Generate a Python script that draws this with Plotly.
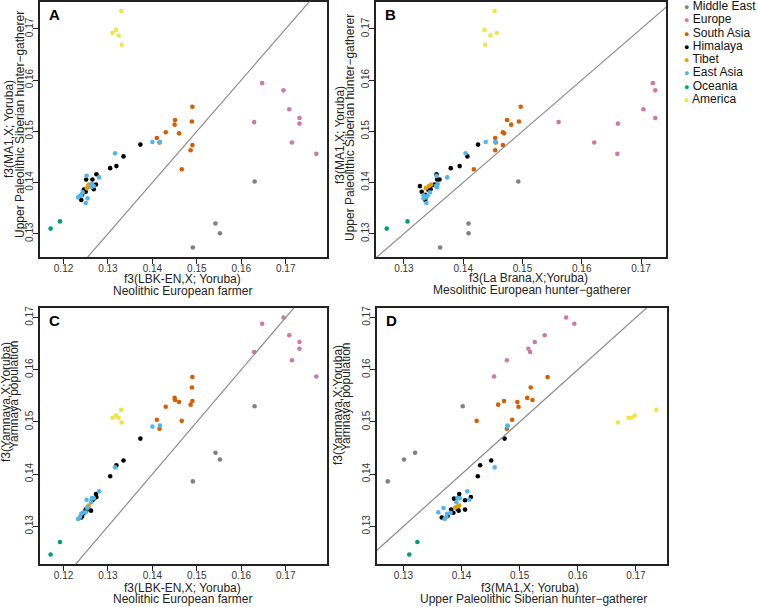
import plotly.graph_objects as go

W, H = 758, 607

regions = ["Middle East", "Europe", "South Asia", "Himalaya", "Tibet", "East Asia", "Oceania", "America"]
region_colors = ["#808080", "#CC79A7", "#D55E00", "#000000", "#E69F00", "#56B4E9", "#009E73", "#F0E442"]

# one entry per population
pop_region = (["Middle East"] * 4 + ["Europe"] * 8 + ["South Asia"] * 11 + ["Himalaya"] * 15
              + ["Tibet"] * 3 + ["East Asia"] * 14 + ["Oceania"] * 2 + ["America"] * 5)

f3_lbk = [0.1630, 0.1542, 0.1552, 0.1491,
          0.1647, 0.1695, 0.1708, 0.1731, 0.1629, 0.1731, 0.1714, 0.1769,
          0.1490, 0.1489, 0.1450, 0.1451, 0.1490, 0.1460, 0.1486, 0.1430, 0.1410, 0.1466, 0.1416,
          0.1373, 0.1335, 0.1319, 0.1305, 0.1240, 0.1250, 0.1268, 0.1273, 0.1265, 0.1251, 0.1274,
          0.1256, 0.1246, 0.1262, 0.1242,
          0.1253, 0.1255, 0.1257,
          0.1316, 0.1400, 0.1417, 0.1250, 0.1254, 0.1233, 0.1240, 0.1243, 0.1262, 0.1268, 0.1264,
          0.1280, 0.1252, 0.1237,
          0.1171, 0.1192,
          0.1330, 0.1310, 0.1318, 0.1324, 0.1331]

f3_labrana = [0.1493, 0.1409, 0.1409, 0.1361,
              0.1720, 0.1724, 0.1704, 0.1724, 0.1561, 0.1661, 0.1621, 0.1660,
              0.1497, 0.1494, 0.1481, 0.1474, 0.1467, 0.1469, 0.1454, 0.1467, 0.1454, 0.1418, 0.1455,
              0.1425, 0.1407, 0.1394, 0.1379, 0.1336, 0.1330, 0.1345, 0.1352, 0.1356, 0.1360, 0.1355,
              0.1327, 0.1341, 0.1349, 0.1336,
              0.1337, 0.1342, 0.1346,
              0.1404, 0.1438, 0.1454, 0.1338, 0.1333, 0.1338, 0.1333, 0.1344, 0.1356, 0.1354, 0.1357,
              0.1373, 0.1355, 0.1340,
              0.1271, 0.1306,
              0.1453, 0.1457, 0.1436, 0.1446, 0.1437]

f3_ma1 = [0.1402, 0.1320, 0.1301, 0.1273,
          0.1594, 0.1580, 0.1543, 0.1526, 0.1518, 0.1515, 0.1478, 0.1456,
          0.1548, 0.1519, 0.1513, 0.1522, 0.1473, 0.1496, 0.1463, 0.1498, 0.1487, 0.1426, 0.1478,
          0.1474, 0.1451, 0.1432, 0.1428, 0.1366, 0.1382, 0.1387, 0.1396, 0.1406, 0.1406, 0.1416,
          0.1393, 0.1386, 0.1395, 0.1376,
          0.1389, 0.1393, 0.1396,
          0.1457, 0.1479, 0.1479, 0.1360, 0.1369, 0.1371, 0.1375, 0.1381, 0.1391, 0.1393, 0.1397,
          0.1410, 0.1413, 0.1374,
          0.1310, 0.1324,
          0.1735, 0.1692, 0.1698, 0.1687, 0.1669]

f3_yamnaya = [0.1530, 0.1441, 0.1428, 0.1386,
              0.1688, 0.1700, 0.1666, 0.1653, 0.1634, 0.1640, 0.1618, 0.1587,
              0.1586, 0.1566, 0.1546, 0.1542, 0.1540, 0.1538, 0.1533, 0.1529, 0.1504, 0.1502, 0.1487,
              0.1468, 0.1426, 0.1417, 0.1396, 0.1317, 0.1332, 0.1353, 0.1362, 0.1350, 0.1332, 0.1356,
              0.1333, 0.1326, 0.1330, 0.1320,
              0.1336, 0.1338, 0.1340,
              0.1413, 0.1491, 0.1493, 0.1327, 0.1335, 0.1314, 0.1324, 0.1326, 0.1346, 0.1354, 0.1354,
              0.1367, 0.1351, 0.1318,
              0.1246, 0.1270,
              0.1523, 0.1508, 0.1512, 0.1508, 0.1499]

tick_vals = [0.12, 0.13, 0.14, 0.15, 0.16, 0.17]
tick_text = ["0.12", "0.13", "0.14", "0.15", "0.16", "0.17"]

FONT = "Liberation Sans, Arial, sans-serif"


def px_x(p):
    return p / W


def px_y(p):
    return 1 - p / H


def padded(vals):
    lo, hi = min(vals), max(vals)
    pad = (hi - lo) * 0.04
    return [lo - pad, hi + pad]


# letter, x values, y values, x domain px, y domain px (top, bottom)
panels = [
    ("A", f3_lbk, f3_ma1, (40, 327), (1.5, 257)),
    ("B", f3_labrana, f3_ma1, (376, 666), (1.5, 257)),
    ("C", f3_lbk, f3_yamnaya, (40, 327), (308, 564)),
    ("D", f3_ma1, f3_yamnaya, (377, 667), (308, 564)),
]

fig = go.Figure()
layout = dict(width=W, height=H, margin=dict(l=0, r=0, t=0, b=0),
              paper_bgcolor="white", plot_bgcolor="white", showlegend=False,
              font=dict(family=FONT, color="#222"), template="none")
shapes = []
annotations = []

for i, (letter, xs, ys, xdom, ydom) in enumerate(panels, start=1):
    sx = "" if i == 1 else str(i)
    for reg, col in zip(regions, region_colors):
        idx = [k for k, r in enumerate(pop_region) if r == reg]
        fig.add_trace(go.Scatter(
            x=[xs[k] for k in idx], y=[ys[k] for k in idx], mode="markers",
            marker=dict(color=col, size=4.6, line=dict(width=0)),
            name=reg, xaxis="x" + sx, yaxis="y" + sx, hoverinfo="skip"))
    xr, yr = padded(xs), padded(ys)
    common = dict(tickvals=tick_vals, ticktext=tick_text, ticks="outside", ticklen=5,
                  tickwidth=1, tickcolor="#222", showline=True, mirror=True,
                  linecolor="#222", linewidth=1.6, showgrid=False, zeroline=False,
                  tickfont=dict(size=10, color="#333", family=FONT), automargin=False,
                  ticklabelstandoff=-4)
    layout["xaxis" + sx] = dict(common, domain=[px_x(xdom[0]), px_x(xdom[1])], range=xr,
                                anchor="y" + sx)
    layout["yaxis" + sx] = dict(common, domain=[px_y(ydom[1]), px_y(ydom[0])], range=yr,
                                anchor="x" + sx, tickangle=-90)
    # y = x reference line
    shapes.append(dict(type="line", xref="x" + sx, yref="y" + sx, x0=0.10, y0=0.10,
                       x1=0.20, y1=0.20, line=dict(color="#8c8c8c", width=1.2)))
    annotations.append(dict(text="<b>%s</b>" % letter, x=px_x(xdom[0] + 7), y=px_y(ydom[0] + 13),
                            xref="paper", yref="paper", xanchor="left", yanchor="middle",
                            showarrow=False, font=dict(size=15, color="black", family=FONT)))


# axis titles
def xtitle(text, cx, cy):
    annotations.append(dict(text=text, x=px_x(cx), y=px_y(cy), xref="paper", yref="paper",
                            xanchor="center", yanchor="middle", showarrow=False,
                            font=dict(size=12, color="#222", family=FONT)))


def ytitle(text, cx, cy):
    annotations.append(dict(text=text, x=px_x(cx), y=px_y(cy), xref="paper", yref="paper",
                            xanchor="center", yanchor="middle", showarrow=False, textangle=-90,
                            font=dict(size=12, color="#222", family=FONT)))


xtitle("f3(LBK-EN,X; Yoruba)", 182, 279)
xtitle("Neolithic European farmer", 182, 291)
xtitle("f3(La Brana,X;Yoruba)", 528, 278)
xtitle("Mesolithic European hunter\u2212gatherer", 532, 290)
xtitle("f3(LBK-EN,X; Yoruba)", 182, 588)
xtitle("Neolithic European farmer", 182, 599)
xtitle("f3(MA1,X; Yoruba)", 530, 588)
xtitle("Upper Paleolithic Siberian hunter\u2212gatherer", 533, 599)

ytitle("f3(MA1,X; Yoruba)", 9, 129)
ytitle("Upper Paleolithic Siberian hunter\u2212gatherer", 20, 125)
ytitle("f3(MA1,X; Yoruba)", 340, 135)
ytitle("Upper Paleolithic Siberian hunter\u2212gatherer", 350, 128)
ytitle("f3(Yamnaya,X;Yoruba)", 6, 402)
ytitle("Yamnaya population", 14, 395)
ytitle("f3(Yamnaya,X;Yoruba)", 338, 405)
ytitle("Yamnaya population", 346, 397)

# legend
for j, (reg, col) in enumerate(zip(regions, region_colors)):
    annotations.append(dict(
        text="<span style='color:%s;font-size:9px'>\u25CF</span> %s" % (col, reg),
        x=px_x(682), y=px_y(6 + j * 13.3), xref="paper", yref="paper",
        xanchor="left", yanchor="middle", showarrow=False,
        font=dict(size=12, color="#111", family=FONT)))

layout["shapes"] = shapes
layout["annotations"] = annotations
fig.update_layout(**layout)

# page body has a default margin; drop it so the figure sits at the window's corner
fig.write_html("out.html", config={"displayModeBar": False},
               post_script="document.body.style.margin='0';")
